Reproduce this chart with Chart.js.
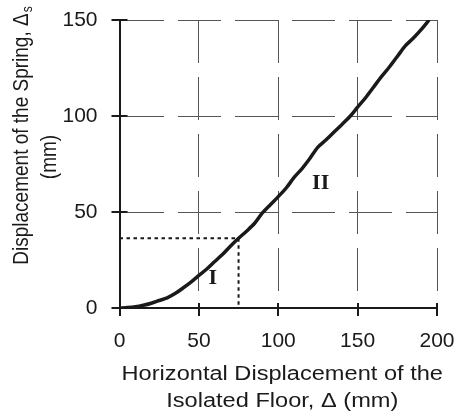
<!DOCTYPE html>
<html>
<head>
<meta charset="utf-8">
<script src="https://cdn.jsdelivr.net/npm/chart.js@4.4.1/dist/chart.umd.min.js"></script>
<style>
  html, body { margin: 0; padding: 0; background: #fff; }
  #wrap { width: 458px; height: 419px; position: relative; }
</style>
</head>
<body>
<div id="wrap"><canvas id="chart"></canvas></div>
<script>
// Spring displacement vs floor displacement (mm)
const floorDisp  = [0, 5, 10, 15, 20, 25, 30, 35, 40, 45, 50, 55, 60, 65, 70, 75, 80, 85, 90, 95,
                    100, 105, 110, 115, 120, 125, 130, 135, 140, 145, 150, 155, 160, 165, 170, 175, 180, 185, 190, 195];
const springDisp = [0, 0.2, 0.6, 1.4, 2.5, 3.9, 5.3, 7.5, 10.4, 13.5, 17, 20.3, 24.2, 28, 32.3, 36.3, 40, 44, 49.5, 53.8,
                    58, 62.5, 68, 72.6, 78, 83.8, 87.5, 91.5, 95.5, 99.6, 104.6, 109.5, 115, 120.5, 125.5, 131, 136.5, 140.5, 145, 150];

// dotted guide marking the end of region I
const guideX = [0, 75, 75];
const guideY = [36.3, 36.3, 0];

// region labels
const regionNames = ['I', 'II'];
const regionX = [58.8, 126.7];
const regionY = [15.5, 65];

const xTicks = [0, 50, 100, 150, 200];
const yTicks = [0, 50, 100, 150];

const xTitle = ['Horizontal Displacement of the', 'Isolated Floor, \u0394 (mm)'];
const yTitle = ['Displacement of the Spring, \u0394', 's', '(mm)'];

const FONT = 'Arial, "Liberation Sans", Helvetica, sans-serif';
const INK = '#1a1a1a';

const curve = floorDisp.map((x, i) => ({ x: x, y: springDisp[i] }));
const guide = guideX.map((x, i) => ({ x: x, y: guideY[i] }));

// drop the label overflow padding so the layout padding alone sets the plot box
function noOverflow(s) {
    s.paddingTop = 0;
    s.paddingRight = 0;
    s.paddingBottom = 0;
    s.paddingLeft = 0;
}

// tick marks that cross the axis lines, plus region names
const crossTicks = {
    id: 'crossTicks',
    afterDatasetsDraw(chart) {
        const ctx = chart.ctx;
        const xs = chart.scales.x, ys = chart.scales.y;
        const a = chart.chartArea;
        ctx.save();
        ctx.strokeStyle = INK;
        ctx.lineWidth = 2;
        ctx.beginPath();
        yTicks.forEach(v => {
            const py = Math.round(ys.getPixelForValue(v));
            ctx.moveTo(a.left - 8, py);
            ctx.lineTo(a.left + 8, py);
        });
        xTicks.forEach(v => {
            const px = Math.round(xs.getPixelForValue(v));
            ctx.moveTo(px, a.bottom - 5);
            ctx.lineTo(px, a.bottom + 8);
        });
        ctx.stroke();

        ctx.fillStyle = INK;
        ctx.font = 'bold 22px "Liberation Serif", "Times New Roman", serif';
        ctx.textAlign = 'center';
        ctx.textBaseline = 'middle';
        regionNames.forEach((t, i) => {
            ctx.fillText(t, xs.getPixelForValue(regionX[i]), ys.getPixelForValue(regionY[i]));
        });
        ctx.restore();
    }
};

// axis titles (wide type, subscript on the spring delta)
const axisTitles = {
    id: 'axisTitles',
    afterDraw(chart) {
        const ctx = chart.ctx;
        const a = chart.chartArea;
        const cx = (a.left + a.right) / 2;

        ctx.save();
        ctx.fillStyle = INK;
        ctx.font = '20px ' + FONT;
        ctx.textAlign = 'center';
        ctx.textBaseline = 'alphabetic';
        [380, 407].forEach((y, i) => {
            ctx.save();
            ctx.translate(cx + 4, y);
            ctx.scale(1.18, 1);
            ctx.fillText(xTitle[i], 0, 0);
            ctx.restore();
        });
        ctx.restore();

        // first line of y title
        ctx.save();
        ctx.fillStyle = INK;
        ctx.translate(28, 136);
        ctx.rotate(-Math.PI / 2);
        ctx.scale(1, 1.18);
        ctx.textBaseline = 'alphabetic';
        ctx.textAlign = 'left';
        ctx.font = '19px ' + FONT;
        const wMain = ctx.measureText(yTitle[0]).width;
        ctx.font = '12px ' + FONT;
        const wSub = ctx.measureText(yTitle[1]).width;
        const start = -(wMain + wSub) / 2;
        ctx.font = '19px ' + FONT;
        ctx.fillText(yTitle[0], start, 0);
        ctx.font = '12px ' + FONT;
        ctx.fillText(yTitle[1], start + wMain + 1, 3);
        ctx.restore();

        // second line
        ctx.save();
        ctx.fillStyle = INK;
        ctx.translate(56, 157);
        ctx.rotate(-Math.PI / 2);
        ctx.scale(1, 1.18);
        ctx.textAlign = 'center';
        ctx.textBaseline = 'alphabetic';
        ctx.font = '19px ' + FONT;
        ctx.fillText(yTitle[2], 0, 0);
        ctx.restore();
    }
};

new Chart(document.getElementById('chart'), {
    type: 'line',
    data: {
        datasets: [{
            data: curve,
            borderColor: INK,
            borderWidth: 3.5,
            pointRadius: 0,
            tension: 0.3,
            fill: false
        }, {
            data: guide,
            borderColor: INK,
            borderWidth: 2,
            borderDash: [3.5, 3.5],
            pointRadius: 0,
            tension: 0,
            fill: false
        }]
    },
    options: {
        responsive: true,
        maintainAspectRatio: false,
        animation: false,
        layout: { padding: { top: 20, right: 21, left: 0, bottom: 0 } },
        plugins: { legend: { display: false }, tooltip: { enabled: false } },
        scales: {
            x: {
                type: 'linear',
                min: 0,
                max: 200,
                afterBuildTicks: s => { s.ticks = xTicks.map(v => ({ value: v })); },
                afterFit: s => { s.height = 111; noOverflow(s); },
                grid: { color: '#555', lineWidth: 1, drawTicks: false },
                border: { display: true, color: INK, width: 2, dash: [43, 14] },
                ticks: { color: INK, font: { size: 21, family: FONT }, padding: 21, maxRotation: 0 }
            },
            y: {
                type: 'linear',
                min: 0,
                max: 150,
                afterBuildTicks: s => { s.ticks = yTicks.map(v => ({ value: v })); },
                afterFit: s => { s.width = 119.5; noOverflow(s); },
                grid: { color: '#555', lineWidth: 1, drawTicks: false },
                border: { display: true, color: INK, width: 2, dash: [43, 14] },
                ticks: { color: INK, font: { size: 21, family: FONT }, padding: 22 }
            }
        }
    },
    plugins: [crossTicks, axisTitles]
});
</script>
</body>
</html>
